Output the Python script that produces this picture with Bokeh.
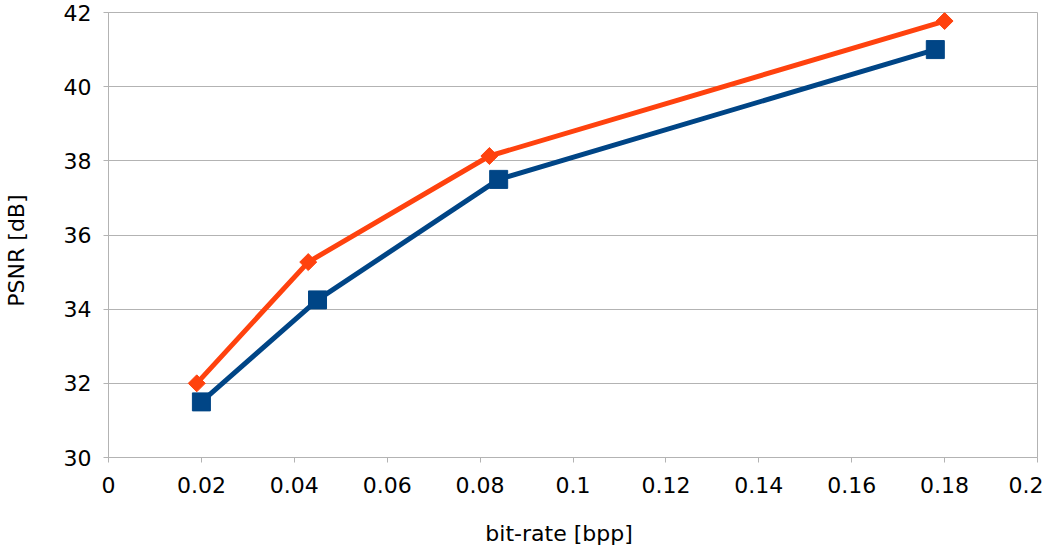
import math
from bokeh.plotting import figure
from bokeh.models import Range1d, FixedTicker, LinearAxis
from bokeh.embed import file_html
from bokeh.resources import INLINE

# data
blue_x = [0.020, 0.045, 0.084, 0.178]
blue_y = [31.5, 34.25, 37.5, 41.0]
orange_x = [0.019, 0.043, 0.082, 0.180]
orange_y = [32.0, 35.27, 38.13, 41.77]
x_ticks = [0, 0.02, 0.04, 0.06, 0.08, 0.1, 0.12, 0.14, 0.16, 0.18, 0.2]
x_labels = ["0", "0.02", "0.04", "0.06", "0.08", "0.1", "0.12", "0.14", "0.16", "0.18", "0.2"]
y_ticks = [30, 32, 34, 36, 38, 40, 42]
y_labels = ["30", "32", "34", "36", "38", "40", "42"]
x_title = "bit-rate [bpp]"
y_title = "PSNR [dB]"
# where the reference centres its (slightly off-centre) axis titles, in data units
x_title_at = 0.097
y_title_at = 35.58

FONT = "DejaVu Sans"
GRID = "#b3b3b3"

p = figure(width=1043, height=538, output_backend="svg", toolbar_location=None,
           x_range=Range1d(0, 0.2), y_range=Range1d(30, 42),
           frame_width=929, frame_height=445,
           min_border_left=108, min_border_top=12, min_border_right=6, min_border_bottom=81)

p.outline_line_color = GRID
p.outline_line_width = 1
p.xgrid.visible = False
p.ygrid.grid_line_color = GRID
p.ygrid.grid_line_width = 1

for ax in (p.xaxis[0], p.yaxis[0]):
    ax.axis_line_color = GRID
    ax.major_tick_line_color = GRID
    ax.major_tick_in = 0
    ax.major_tick_out = 5
    ax.minor_tick_line_color = None
    ax.major_label_text_font = FONT
    ax.major_label_text_font_size = "22px"
    ax.major_label_text_color = "black"

p.xaxis.ticker = FixedTicker(ticks=x_ticks)
p.yaxis.ticker = FixedTicker(ticks=y_ticks)
p.xaxis.major_label_overrides = {t: l for t, l in zip(x_ticks, x_labels)}
p.yaxis.major_label_overrides = {t: l for t, l in zip(y_ticks, y_labels)}
p.xaxis.major_label_standoff = 14
p.yaxis.major_label_standoff = 12

# axis titles as label-only axes, so they can sit off-centre like the reference
def title_axis(ticks, text, standoff, orientation):
    ax = LinearAxis(ticker=FixedTicker(ticks=ticks),
                    major_label_overrides={ticks[0]: text},
                    axis_line_color=None, major_tick_line_color=None,
                    minor_tick_line_color=None, major_tick_in=0, major_tick_out=0,
                    minor_tick_in=0, minor_tick_out=0,
                    major_label_standoff=standoff,
                    major_label_orientation=orientation,
                    major_label_text_font=FONT, major_label_text_font_size="22px",
                    major_label_text_color="black")
    return ax

p.add_layout(title_axis([x_title_at], x_title, 25, "horizontal"), "below")
p.add_layout(title_axis([y_title_at], y_title, 31, "vertical"), "left")

p.line(blue_x, blue_y, line_color="#004586", line_width=5)
p.scatter(blue_x, blue_y, marker="square", size=18, fill_color="#004586", line_color="#004586")
p.line(orange_x, orange_y, line_color="#ff420e", line_width=5)
p.scatter(orange_x, orange_y, marker="square", angle=math.pi / 4, size=12,
          fill_color="#ff420e", line_color="#ff420e")

open("out.html", "w").write(file_html(p, INLINE))
